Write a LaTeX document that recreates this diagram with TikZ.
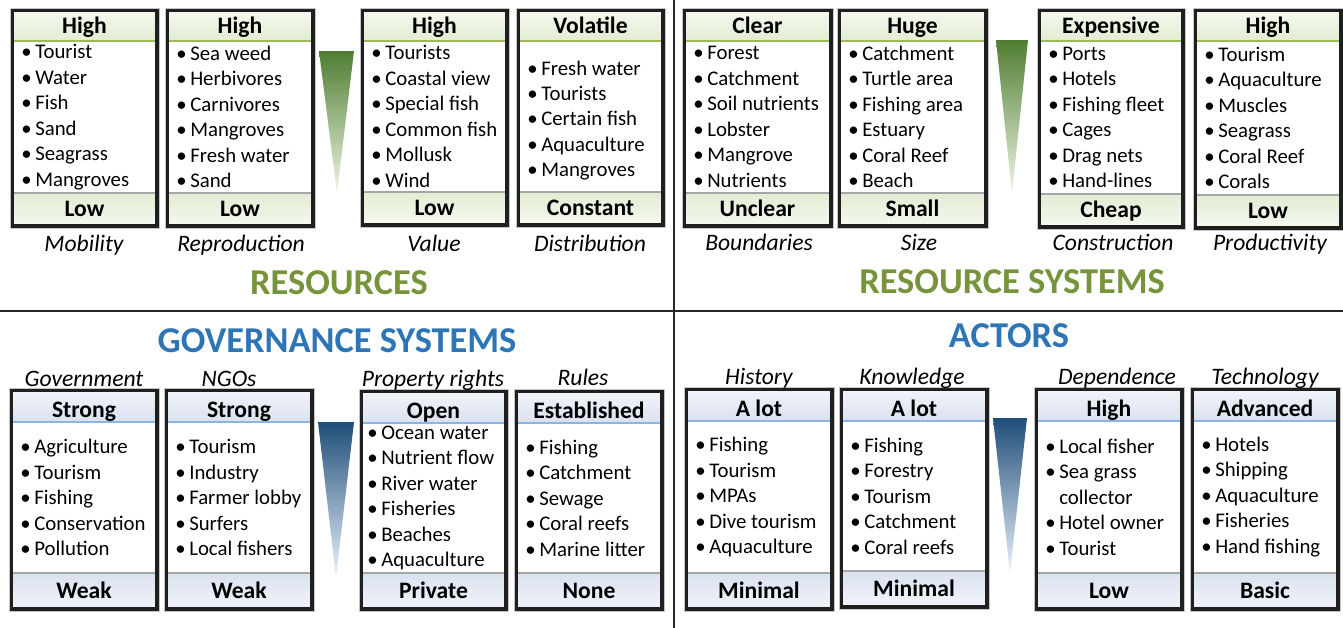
\documentclass[tikz,border=0pt]{standalone}
\usepackage{fontspec}
\setmainfont{Carlito}
\definecolor{gtitle}{RGB}{119,147,60}
\definecolor{btitle}{RGB}{46,117,182}
\definecolor{gband}{RGB}{226,236,211}
\definecolor{gbandhi}{RGB}{244,248,238}
\definecolor{gline}{RGB}{155,187,89}
\definecolor{bband}{RGB}{218,225,239}
\definecolor{bbandhi}{RGB}{240,243,249}
\definecolor{bline}{RGB}{141,179,226}
\definecolor{gtri}{RGB}{80,125,50}
\definecolor{gtrilo}{RGB}{238,246,228}
\definecolor{btri}{RGB}{31,78,121}
\definecolor{btrilo}{RGB}{232,241,250}
\tikzset{
  bodytxt/.style={anchor=west, align=left, inner sep=0pt, font=\fontsize{15.6}{19.1}\selectfont},
  headtxt/.style={anchor=base, inner sep=0pt, font=\fontsize{17.7}{20}\selectfont\bfseries},
  lbl/.style={anchor=base, inner sep=0pt, font=\fontsize{17.7}{20}\selectfont\itshape},
  ttl/.style={inner sep=0pt, font=\fontsize{27.3}{30}\selectfont\bfseries},
  divider/.style={black!85, line width=1.5pt},
}
\newcommand\itm[1]{\makebox[10.5pt][l]{\textbullet}#1}
\newcommand\fbx[9]{%
  \fill[white] (#2,#3) rectangle (#4,#5);
  \shade[top color=#9bandhi, bottom color=#9band] (#2+2,#3+2) rectangle (#4-2,#3+\hh);
  \draw[#9line, line width=0.9pt] (#2+2,#3+\hh) -- (#4-2,#3+\hh);
  \shade[top color=#9band, bottom color=#9bandhi] (#2+2,#5-\fh) rectangle (#4-2,#5-2);
  \draw[gray!70, line width=0.9pt] (#2+2,#5-\fh) -- (#4-2,#5-\fh);
  \draw[black!88, line width=2.4pt] (#2,#3) rectangle (#4,#5);
  \draw[gray!45, line width=0.6pt] (#2-2,#3-2) rectangle (#4+2,#5+2);
  \node[headtxt] (#1h) at ({(#2+#4)/2},{#3+\hb}) {#6};
  \node[headtxt] (#1f) at ({(#2+#4)/2},{#5-\fb}) {#7};
  \node[bodytxt] (#1b) at (#2+\bx,{(#3+\hh+#5-\fh)/2+\by}) {#8};
}
\begin{document}
\begin{tikzpicture}[x=0.75pt,y=-0.75pt]
\useasboundingbox (0,0) rectangle (1343,628);
\fill[white] (0,0) rectangle (1343,628);
% dividers
\draw[divider] (0,311) -- (1343,311);
\draw[divider] (674,0) -- (674,628);
% ---------- top row ----------
\def\hh{31}\def\fh{33}\def\bx{9}\def\by{0}\def\hb{23.5}\def\fb{9.5}
\fbx{a1}{12}{10}{157}{226}{High}{Low}{\itm{Tourist}\\\itm{Water}\\\itm{Fish}\\\itm{Sand}\\\itm{Seagrass}\\\itm{Mangroves}}{g}
\fbx{a2}{167}{10}{313}{226}{High}{Low}{\itm{Sea weed}\\\itm{Herbivores}\\\itm{Carnivores}\\\itm{Mangroves}\\\itm{Fresh water}\\\itm{Sand}}{g}
\fbx{a3}{362}{10}{507}{225}{High}{Low}{\itm{Tourists}\\\itm{Coastal view}\\\itm{Special fish}\\\itm{Common fish}\\\itm{Mollusk}\\\itm{Wind}}{g}
\def\by{4}
\fbx{a4}{518}{10}{663}{225}{Volatile}{Constant}{\itm{Fresh water}\\\itm{Tourists}\\\itm{Certain fish}\\\itm{Aquaculture}\\\itm{Mangroves}}{g}
\def\by{0}
\fbx{a5}{684}{10}{831}{226}{Clear}{Unclear}{\itm{Forest}\\\itm{Catchment}\\\itm{Soil nutrients}\\\itm{Lobster}\\\itm{Mangrove}\\\itm{Nutrients}}{g}
\fbx{a6}{839}{10}{986}{226}{Huge}{Small}{\itm{Catchment}\\\itm{Turtle area}\\\itm{Fishing area}\\\itm{Estuary}\\\itm{Coral Reef}\\\itm{Beach}}{g}
\fbx{a7}{1039}{10}{1183}{227}{Expensive}{Cheap}{\itm{Ports}\\\itm{Hotels}\\\itm{Fishing fleet}\\\itm{Cages}\\\itm{Drag nets}\\\itm{Hand-lines}}{g}
\fbx{a8}{1195}{10}{1341}{228}{High}{Low}{\itm{Tourism}\\\itm{Aquaculture}\\\itm{Muscles}\\\itm{Seagrass}\\\itm{Coral Reef}\\\itm{Corals}}{g}
\shade[top color=gtri, bottom color=gtrilo] (319,51) -- (354,51) -- (337,193) -- cycle;
\shade[top color=gtri, bottom color=gtrilo] (996,40) -- (1028,40) -- (1012,193) -- cycle;
\node[lbl] (l1) at (84,251) {Mobility};
\node[lbl] (l2) at (241,251) {Reproduction};
\node[lbl] (l3) at (434,251) {Value};
\node[lbl] (l4) at (590,251) {Distribution};
\node[lbl] (l5) at (759,250) {Boundaries};
\node[lbl] (l6) at (919,250) {Size};
\node[lbl] (l7) at (1113,250) {Construction};
\node[lbl] (l8) at (1270,250) {Productivity};
\node[ttl, text=gtitle] (t1) at (339,283) {RESOURCES};
\node[ttl, text=gtitle] (t2) at (1012,282) {RESOURCE SYSTEMS};
% ---------- bottom row ----------
\node[ttl, text=btitle] (t3) at (337,341) {GOVERNANCE SYSTEMS};
\node[ttl, text=btitle] (t4) at (1009,336) {ACTORS};
\def\hh{32}\def\fh{36}\def\hb{27}\def\fb{11}
\fbx{b1}{11}{390}{157}{609}{Strong}{Weak}{\itm{Agriculture}\\\itm{Tourism}\\\itm{Fishing}\\\itm{Conservation}\\\itm{Pollution}}{b}
\fbx{b2}{166}{390}{312}{609}{Strong}{Weak}{\itm{Tourism}\\\itm{Industry}\\\itm{Farmer lobby}\\\itm{Surfers}\\\itm{Local fishers}}{b}
\def\bx{6}
\fbx{b3}{361}{391}{506}{609}{Open}{Private}{\itm{Ocean water}\\\itm{Nutrient flow}\\\itm{River water}\\\itm{Fisheries}\\\itm{Beaches}\\\itm{Aquaculture}}{b}
\def\bx{9}
\fbx{b4}{516}{391}{662}{609}{Established}{None}{\itm{Fishing}\\\itm{Catchment}\\\itm{Sewage}\\\itm{Coral reefs}\\\itm{Marine litter}}{b}
\fbx{b5}{686}{389}{832}{609}{A lot}{Minimal}{\itm{Fishing}\\\itm{Tourism}\\\itm{MPAs}\\\itm{Dive tourism}\\\itm{Aquaculture}}{b}
\fbx{b6}{841}{389}{987}{607}{A lot}{Minimal}{\itm{Fishing}\\\itm{Forestry}\\\itm{Tourism}\\\itm{Catchment}\\\itm{Coral reefs}}{b}
\fbx{b7}{1036}{389}{1182}{609}{High}{Low}{\itm{Local fisher}\\\itm{Sea grass}\\\hspace*{10.5pt}collector\\\itm{Hotel owner}\\\itm{Tourist}}{b}
\fbx{b8}{1192}{389}{1338}{609}{Advanced}{Basic}{\itm{Hotels}\\\itm{Shipping}\\\itm{Aquaculture}\\\itm{Fisheries}\\\itm{Hand fishing}}{b}
\shade[top color=btri, bottom color=btrilo] (318,422) -- (354,422) -- (336,577) -- cycle;
\shade[top color=btri, bottom color=btrilo] (993,418) -- (1027,418) -- (1010,573) -- cycle;
\node[lbl] (m1) at (84,386) {Government};
\node[lbl] (m2) at (229,386) {NGOs};
\node[lbl] (m3) at (433,386) {Property rights};
\node[lbl] (m4) at (583,385) {Rules};
\node[lbl] (m5) at (759,384) {History};
\node[lbl] (m6) at (912,384) {Knowledge};
\node[lbl] (m7) at (1117,384) {Dependence};
\node[lbl] (m8) at (1265,384) {Technology};
\end{tikzpicture}
\end{document}
